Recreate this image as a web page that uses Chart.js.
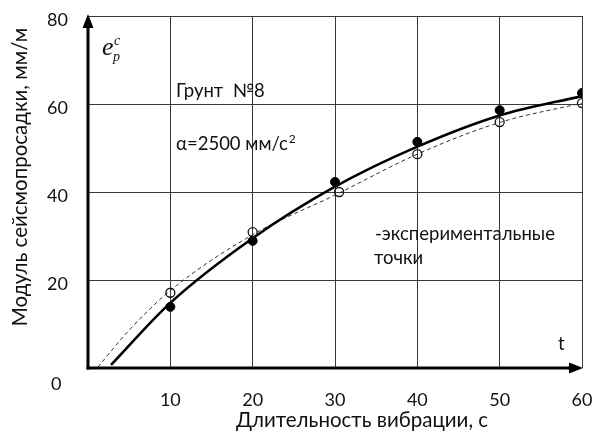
<!DOCTYPE html>
<html>
<head>
<meta charset="utf-8">
<script src="https://cdn.jsdelivr.net/npm/chart.js@4"></script>
<style>
html,body{margin:0;padding:0;background:#fff;}
#wrap{width:598px;height:432px;}
</style>
</head>
<body>
<div id="wrap"><canvas id="c" width="598" height="432"></canvas></div>
<script>
// ---- data ----
const xTickValues = [10, 20, 30, 40, 50, 60];
const yTickValues = [20, 40, 60, 80];
const solidCurveT = [2.8, 10, 20, 30, 40, 50, 60];
const solidCurveV = [0.7, 14.8, 29.5, 41.2, 50.3, 57.4, 61.8];
const dashedCurveT = [1.2, 5, 10, 20, 30, 40, 50, 60];
const dashedCurveV = [0.2, 8.6, 17.6, 30.3, 39.3, 48.6, 55.8, 60.2];
const filledPointsT = [10, 20, 30, 40, 50, 60];
const filledPointsV = [13.9, 28.9, 42.3, 51.4, 58.6, 62.5];
const hollowPointsT = [10, 20, 30.5, 40, 50, 60];
const hollowPointsV = [17.1, 30.9, 40.0, 48.6, 55.9, 60.2];
const xTitle = 'Длительность вибрации, с';
const yTitle = 'Модуль сейсмопросадки, мм/м';
const soilLabel = 'Грунт  №8';
const accelLabel = 'α=2500 мм/с';
const expLabel1 = '-экспериментальные';
const expLabel2 = 'точки';

const pts = (t, v) => t.map((x, i) => ({x: x, y: v[i]}));
const FONT = 'Lato, "Open Sans", sans-serif';

const decor = {
  id: 'decor',
  afterDraw(chart) {
    const ctx = chart.ctx;
    const xs = chart.scales.x, ys = chart.scales.y;
    const x0 = xs.getPixelForValue(0), y0 = ys.getPixelForValue(0);
    const xEnd = xs.getPixelForValue(60), yTop = ys.getPixelForValue(80);
    ctx.save();
    // axes with arrows
    ctx.strokeStyle = '#000'; ctx.fillStyle = '#000'; ctx.lineWidth = 3;
    ctx.beginPath(); ctx.moveTo(x0, y0 + 1.5); ctx.lineTo(x0, yTop + 10); ctx.stroke();
    ctx.beginPath(); ctx.moveTo(x0 - 1.5, y0); ctx.lineTo(xEnd - 12, y0); ctx.stroke();
    ctx.beginPath(); ctx.moveTo(x0, yTop - 2); ctx.lineTo(x0 - 5.5, yTop + 12); ctx.lineTo(x0 + 5.5, yTop + 12); ctx.closePath(); ctx.fill();
    ctx.beginPath(); ctx.moveTo(xEnd + 1, y0); ctx.lineTo(xEnd - 13, y0 - 5.5); ctx.lineTo(xEnd - 13, y0 + 5.5); ctx.closePath(); ctx.fill();

    ctx.fillStyle = '#111';
    ctx.textBaseline = 'alphabetic';
    ctx.textAlign = 'left';
    ctx.font = '18.5px ' + FONT;
    ctx.fillText(soilLabel, 176, 97);
    ctx.fillText(accelLabel, 176, 150);
    const w = ctx.measureText(accelLabel).width;
    ctx.font = '12px ' + FONT;
    ctx.fillText('2', 176 + w + 1, 143);
    ctx.font = '18.5px ' + FONT;
    ctx.fillText(expLabel1, 375, 240);
    ctx.fillText(expLabel2, 374, 264);
    ctx.fillText('t', 558, 350);
    ctx.font = '18px ' + FONT;
    ctx.fillText('0', 51, 390);

    // e_p^c
    ctx.font = 'italic 26px "Liberation Serif", "DejaVu Serif", serif';
    ctx.fillText('e', 102, 55);
    ctx.font = 'italic 14px "Liberation Serif", "DejaVu Serif", serif';
    ctx.fillText('c', 114, 45);
    ctx.fillText('p', 113, 61);

    // axis titles
    ctx.font = '20.5px ' + FONT;
    ctx.textAlign = 'center';
    ctx.textBaseline = 'middle';
    ctx.fillText(xTitle, 362, 420);
    ctx.translate(20, 177);
    ctx.rotate(-Math.PI / 2);
    ctx.fillText(yTitle, 0, 0);
    ctx.restore();
  }
};

new Chart(document.getElementById('c'), {
  type: 'scatter',
  data: {
    datasets: [
      {type: 'line', data: pts(solidCurveT, solidCurveV), borderColor: '#000', borderWidth: 2.6,
       pointRadius: 0, cubicInterpolationMode: 'monotone', fill: false, order: 3},
      {type: 'line', data: pts(dashedCurveT, dashedCurveV), borderColor: '#333', borderWidth: 1,
       borderDash: [4, 3], pointRadius: 0, cubicInterpolationMode: 'monotone', fill: false, order: 4},
      {data: pts(filledPointsT, filledPointsV), pointRadius: 4.5, pointBackgroundColor: '#000',
       pointBorderColor: '#000', pointBorderWidth: 1, order: 1},
      {data: pts(hollowPointsT, hollowPointsV), pointRadius: 4.5, pointBackgroundColor: 'rgba(255,255,255,0)',
       pointBorderColor: '#111', pointBorderWidth: 1.3, order: 2}
    ]
  },
  options: {
    responsive: false,
    animation: false,
    layout: {padding: {left: 0, top: 16, right: 16, bottom: 0}},
    plugins: {legend: {display: false}, tooltip: {enabled: false}},
    scales: {
      x: {
        type: 'linear', min: 0, max: 60,
        afterBuildTicks: s => { s.ticks = xTickValues.map(v => ({value: v})); },
        afterFit: s => { s.height = 64; s.paddingLeft = 0; s.paddingRight = 0; },
        grid: {color: '#3a3a3a', lineWidth: 1, drawTicks: false},
        border: {display: false},
        ticks: {font: {size: 18, family: FONT}, color: '#111', padding: 21, maxRotation: 0}
      },
      y: {
        type: 'linear', min: 0, max: 80,
        afterBuildTicks: s => { s.ticks = yTickValues.map(v => ({value: v})); },
        afterFit: s => { s.width = 88; s.paddingTop = 0; s.paddingBottom = 0; },
        grid: {color: '#3a3a3a', lineWidth: 1, drawTicks: false},
        border: {display: false},
        ticks: {font: {size: 18, family: FONT}, color: '#111', padding: 20, labelOffset: 4}
      }
    }
  },
  plugins: [decor]
});
</script>
</body>
</html>
